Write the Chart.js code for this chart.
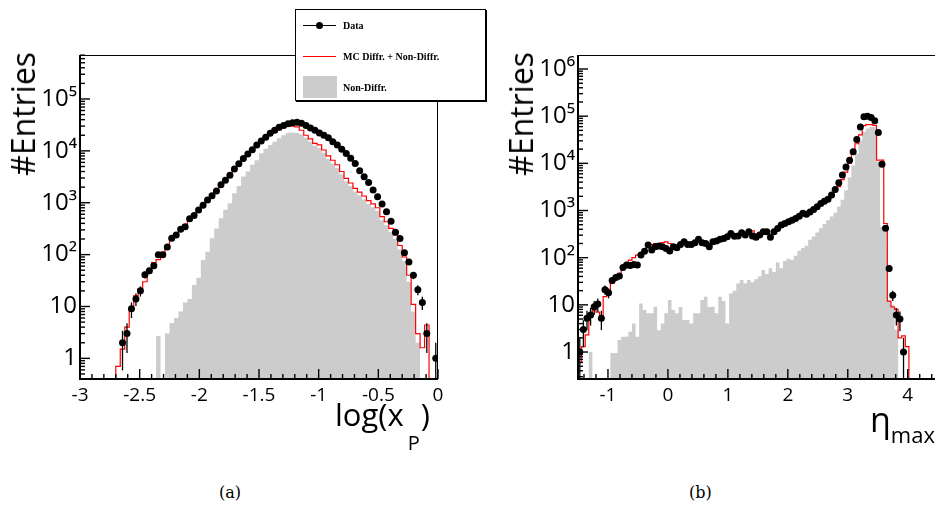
<!DOCTYPE html>
<html>
<head>
<meta charset="utf-8">
<script src="https://cdn.jsdelivr.net/npm/chart.js@4.4.1/dist/chart.umd.min.js"></script>
<style>
  html, body { margin: 0; padding: 0; background: #fff; }
  #page { position: relative; width: 935px; height: 511px; overflow: hidden; }
  canvas { position: absolute; top: 0; }
  #cA { left: 0; }
  #cB { left: 470px; }
  .title { position: absolute; font-family: "Open Sans", sans-serif; color: #000; white-space: nowrap; line-height: 1; }
  .ytitle { writing-mode: vertical-rl; transform: rotate(180deg); font-size: 32px; }
  .cap { position: absolute; font-family: "DejaVu Serif", serif; font-size: 16px; top: 483px; }
  #legend { position: absolute; left: 295px; top: 9px; width: 189px; height: 90px; border: 1px solid #000;
            box-shadow: 1px 1px 0 #000; background: #fff; font-family: "Liberation Serif", serif; font-weight: bold; font-size: 10px; }
  #legend .txt { position: absolute; left: 47px; line-height: 10px; }
  #legend .ln { position: absolute; left: 7px; width: 33px; }
</style>
</head>
<body>
<div id="page">
  <canvas id="cA" width="470" height="420"></canvas>
  <canvas id="cB" width="470" height="420"></canvas>

  <div class="title ytitle" style="left:7px; top:52px;">#Entries</div>
  <div class="title ytitle" style="left:505px; top:52px;">#Entries</div>
  <div class="title" style="left:335px; top:399px; font-size:31px;">log(x<span style="font-size:20px; position:relative; top:24px; margin-left:4px; margin-right:1px;">P</span>)</div>
  <div class="title" style="left:870px; top:402px; font-size:34px;">η<span style="font-size:22px; position:relative; top:11px;">max</span></div>

  <div class="cap" style="left:219px;">(a)</div>
  <div class="cap" style="left:689px;">(b)</div>

  <div id="legend">
    <div class="ln" style="top:15px; height:1px; background:#000;"></div>
    <div style="position:absolute; left:20px; top:12px; width:7px; height:7px; border-radius:50%; background:#000;"></div>
    <div class="txt" style="top:11px;">Data</div>
    <div class="ln" style="top:46px; height:1px; background:#ff0000;"></div>
    <div class="txt" style="top:42px;">MC Diffr. + Non-Diffr.</div>
    <div class="ln" style="top:66px; height:22px; width:34px; background:#cccccc;"></div>
    <div class="txt" style="top:73px;">Non-Diffr.</div>
  </div>
</div>

<script>
// panel (a): log(x_P), 80 bins from -3 to 0
const xpLo = -3;
const xpBinW = 0.0375;
const dataXp = [
  0, 0, 0, 0, 0, 0, 0, 0, 0, 2,
  3, 9, 14, 20, 41, 49, 61, 99, 99, 140,
  206, 239, 308, 346, 490, 565, 727, 890, 1130, 1370,
  1690, 2230, 2720, 3400, 4450, 5640, 7100, 8730, 10500, 13000,
  15500, 18300, 21900, 25000, 28500, 31000, 33500, 35000, 35500, 34000,
  31000, 27500, 25000, 22000, 20000, 18000, 15000, 13000, 10700, 8900,
  7200, 5700, 4150, 3170, 2460, 1760, 1300, 950, 670, 440,
  270, 205, 109, 72, 40, 21, 12, 3, 0, 1
];
const mcXp = [
  0, 0, 0, 0, 0, 0, 0, 0, 0.7, 1.5,
  4, 9, 16, 22, 30, 45, 70, 80, 110, 130,
  200, 250, 330, 380, 500, 560, 720, 900, 1100, 1350,
  1700, 2200, 2700, 3400, 4300, 5500, 6900, 8400, 10000, 12300,
  14700, 17200, 20000, 23000, 25500, 28000, 29500, 30000, 29000, 25000,
  20000, 17000, 14000, 13000, 10400, 8000, 6600, 5400, 4000, 2950,
  2400, 1900, 1600, 1350, 1100, 950, 800, 540, 430, 320,
  240, 150, 90, 40, 11, 3, 1.6, 4.4, 0, 0
];
const ndXp = [
  0, 0, 0, 0, 0, 0, 0, 0, 0, 0,
  0, 0, 0, 0, 0, 0, 0, 2.7, 0, 3,
  4.8, 6, 8, 12, 14, 26, 36, 79, 114, 206,
  320, 500, 730, 980, 1520, 2100, 3200, 4000, 5400, 6600,
  9000, 11000, 13000, 15000, 17500, 20000, 22000, 22500, 22000, 21000,
  18000, 15000, 12500, 11500, 9200, 7000, 5700, 4700, 3500, 2600,
  2100, 1650, 1400, 1150, 950, 820, 690, 460, 370, 270,
  200, 125, 75, 30, 8, 2, 0, 0, 0, 0
];
const xpTicks = [-3, -2.5, -2, -1.5, -1, -0.5, 0];
const entriesTicksA = [1, 10, 100, 1000, 10000, 100000];

// panel (b): eta_max, 100 bins from -1.5 to 4.5
const etaLo = -1.5;
const etaBinW = 0.06;
const dataEta = [
  1, 3, 5.2, 6.1, 9.1, 10.4, 5.2, 21, 18, 33,
  38, 41, 62, 70, 68, 72, 70, 114, 137, 185,
  145, 170, 176, 170, 157, 138, 170, 162, 190, 217,
  190, 190, 207, 245, 207, 200, 170, 217, 225, 245,
  255, 277, 325, 286, 287, 337, 301, 354, 287, 270,
  301, 354, 354, 270, 354, 417, 493, 531, 577, 625,
  680, 760, 870, 830, 935, 1050, 1200, 1410, 1580, 1730,
  2130, 2800, 3860, 5650, 8400, 11600, 17500, 32000, 59000, 97000,
  100000, 94000, 80000, 45000, 9600, 420, 59, 16, 6.1, 5,
  1, 0, 0, 0, 0, 0, 0, 0, 0, 0
];
const mcEta = [
  0.6, 1.3, 2.3, 6.1, 7.8, 7, 5.6, 15, 20.6, 29,
  39, 45, 59, 75, 89, 100, 113, 120, 133, 185,
  190, 200, 200, 210, 217, 200, 185, 185, 200, 207,
  207, 200, 210, 230, 220, 210, 200, 215, 230, 250,
  260, 280, 300, 300, 310, 330, 320, 360, 370, 320,
  330, 370, 380, 300, 340, 420, 480, 530, 580, 620,
  680, 760, 850, 850, 930, 1050, 1200, 1400, 1550, 1700,
  2000, 2500, 3200, 4500, 6500, 10000, 17000, 26000, 40000, 63000,
  66000, 66000, 64000, 11700, 11700, 530, 12, 9, 8, 2,
  2.2, 1.3, 0, 0, 0, 0, 0, 0, 0, 0
];
const ndEta = [
  0, 0, 0, 1, 0, 0, 0, 0, 0, 0.95,
  0.95, 1.8, 2.1, 2.1, 2.7, 4, 2.1, 10.7, 7.8, 6.6,
  6.6, 9.1, 2.9, 4, 6.6, 12.6, 7.8, 6.6, 9, 4.8,
  4.8, 4, 6.6, 6.6, 12.6, 14.9, 9, 9.1, 6.6, 14.9,
  12, 4, 17.5, 20, 28.5, 33.5, 28.5, 33.5, 30, 35,
  40, 55, 45, 60, 50, 80, 60, 85, 95, 90,
  110, 140, 160, 180, 240, 280, 340, 420, 520, 620,
  750, 900, 1200, 1700, 2700, 5000, 9000, 16000, 30000, 47000,
  55000, 60000, 60000, 11000, 450, 400, 12, 10, 3, 0,
  0, 0, 0, 0, 0, 0, 0, 0, 0, 0
];
const etaTicks = [-1, 0, 1, 2, 3, 4];
const entriesTicksB = [1, 10, 100, 1000, 10000, 100000, 1000000];

const SUP = { 2: '²', 3: '³', 4: '⁴', 5: '⁵', 6: '⁶' };
function decadeLabel(v) {
  const e = Math.round(Math.log10(v));
  if (e === 0) return '1';
  if (e === 1) return '10';
  return '10' + SUP[e];
}

// step outline of a histogram, through bin centres, padded at both edges
function histLine(lo, w, vals, floor) {
  const pts = [{ x: lo, y: Math.max(vals[0], floor) }];
  vals.forEach((v, i) => pts.push({ x: lo + (i + 0.5) * w, y: Math.max(v, floor) }));
  pts.push({ x: lo + vals.length * w, y: Math.max(vals[vals.length - 1], floor) });
  return pts;
}

function histPoints(lo, w, vals) {
  const pts = [];
  vals.forEach((v, i) => { if (v > 0) pts.push({ x: lo + (i + 0.5) * w, y: v }); });
  return pts;
}

// ROOT-style frame: thick left/bottom axes, thin top/right, ticks pointing inward
const rootFrame = {
  id: 'rootFrame',
  afterDraw(chart, args, opts) {
    const { ctx, chartArea: a } = chart;
    const xs = chart.scales.x, ys = chart.scales.y;
    ctx.save();
    ctx.strokeStyle = '#000';
    ctx.lineWidth = 1;
    ctx.beginPath();
    ctx.moveTo(a.left, a.top + 0.5);
    ctx.lineTo(a.right - 0.5, a.top + 0.5);
    ctx.lineTo(a.right - 0.5, a.bottom);
    ctx.stroke();

    ctx.lineWidth = 1.4;
    const first = Math.ceil(xs.min / opts.xMinor - 1e-6);
    for (let i = first; i * opts.xMinor <= xs.max + 1e-6; i++) {
      const v = i * opts.xMinor;
      const r = v / opts.xMajor;
      const len = Math.abs(r - Math.round(r)) < 1e-6 ? 10 : 5;
      const px = xs.getPixelForValue(v);
      ctx.beginPath();
      ctx.moveTo(px, a.bottom);
      ctx.lineTo(px, a.bottom - len);
      ctx.stroke();
    }
    const e0 = Math.floor(Math.log10(ys.min)), e1 = Math.ceil(Math.log10(ys.max));
    for (let e = e0; e <= e1; e++) {
      for (let m = 1; m <= 9; m++) {
        const v = m * Math.pow(10, e);
        if (v < ys.min || v > ys.max) continue;
        const py = ys.getPixelForValue(v);
        ctx.beginPath();
        ctx.moveTo(a.left, py);
        ctx.lineTo(a.left + (m === 1 ? 10 : 5), py);
        ctx.stroke();
      }
    }

    ctx.lineWidth = 2;
    ctx.beginPath();
    ctx.moveTo(a.left, a.top);
    ctx.lineTo(a.left, a.bottom);
    ctx.lineTo(a.right, a.bottom);
    ctx.stroke();
    ctx.restore();
  }
};

// sqrt(N) vertical error bars on the data markers
const errBars = {
  id: 'errBars',
  afterDatasetsDraw(chart) {
    const meta = chart.getDatasetMeta(0);
    const pts = chart.data.datasets[0].data;
    const ys = chart.scales.y, a = chart.chartArea, ctx = chart.ctx;
    ctx.save();
    ctx.strokeStyle = '#000';
    ctx.lineWidth = 1.3;
    meta.data.forEach((el, i) => {
      const v = pts[i].y, e = Math.sqrt(v);
      const top = Math.max(ys.getPixelForValue(v + e), a.top);
      const bot = v - e > ys.min ? ys.getPixelForValue(v - e) : a.bottom;
      ctx.beginPath();
      ctx.moveTo(el.x, top);
      ctx.lineTo(el.x, bot);
      ctx.stroke();
    });
    ctx.restore();
  }
};

function makePanel(id, p) {
  const floor = p.yMin;
  return new Chart(document.getElementById(id), {
    type: 'line',
    data: {
      datasets: [
        {
          label: 'Data',
          data: histPoints(p.lo, p.w, p.data),
          showLine: false,
          pointRadius: 3.5,
          pointBackgroundColor: '#000',
          pointBorderWidth: 0,
          order: 0
        },
        {
          label: 'MC Diffr. + Non-Diffr.',
          data: histLine(p.lo, p.w, p.mc, floor),
          borderColor: '#ff0000',
          borderWidth: 1.2,
          pointRadius: 0,
          stepped: 'middle',
          fill: false,
          order: 1
        },
        {
          label: 'Non-Diffr.',
          data: histLine(p.lo, p.w, p.nd, floor),
          borderWidth: 0,
          borderColor: 'rgba(0,0,0,0)',
          backgroundColor: '#cccccc',
          pointRadius: 0,
          stepped: 'middle',
          fill: 'start',
          order: 2
        }
      ]
    },
    options: {
      responsive: false,
      animation: false,
      layout: { autoPadding: false, padding: { top: 55, right: p.padRight, left: 0, bottom: 0 } },
      plugins: {
        legend: { display: false },
        tooltip: { enabled: false },
        rootFrame: { xMajor: p.xMajor, xMinor: p.xMinor }
      },
      scales: {
        x: {
          type: 'linear',
          min: p.xMin,
          max: p.xMax,
          grid: { display: false, drawTicks: false },
          border: { display: false },
          afterBuildTicks: (s) => { s.ticks = p.xTicks.map((v) => ({ value: v })); },
          afterFit: (s) => { s.height = 41; },
          ticks: {
            autoSkip: false,
            maxRotation: 0,
            padding: 5,
            color: '#000',
            font: { family: 'Open Sans', size: 19 },
            callback: (v) => String(v)
          }
        },
        y: {
          type: 'logarithmic',
          min: p.yMin,
          max: p.yMax,
          grid: { display: false, drawTicks: false },
          border: { display: false },
          afterBuildTicks: (s) => { s.ticks = p.yTicks.map((v) => ({ value: v })); },
          afterFit: (s) => { s.width = p.yWidth; },
          ticks: {
            autoSkip: false,
            padding: 3,
            color: '#000',
            font: { family: 'Open Sans', size: 24 },
            callback: (v) => decadeLabel(v)
          }
        }
      }
    },
    plugins: [rootFrame, errBars]
  });
}

makePanel('cA', {
  lo: xpLo, w: xpBinW, data: dataXp, mc: mcXp, nd: ndXp,
  xMin: -3, xMax: 0, xTicks: xpTicks, xMajor: 0.5, xMinor: 0.1,
  yMin: 0.4, yMax: 7.05e5, yTicks: entriesTicksA,
  yWidth: 80, padRight: 32
});

makePanel('cB', {
  lo: etaLo, w: etaBinW, data: dataEta, mc: mcEta, nd: ndEta,
  xMin: -1.5, xMax: 4.5, xTicks: etaTicks, xMajor: 1, xMinor: 0.2,
  yMin: 0.268, yMax: 1.98e6, yTicks: entriesTicksB,
  yWidth: 108, padRight: 2.3
});
</script>
</body>
</html>
